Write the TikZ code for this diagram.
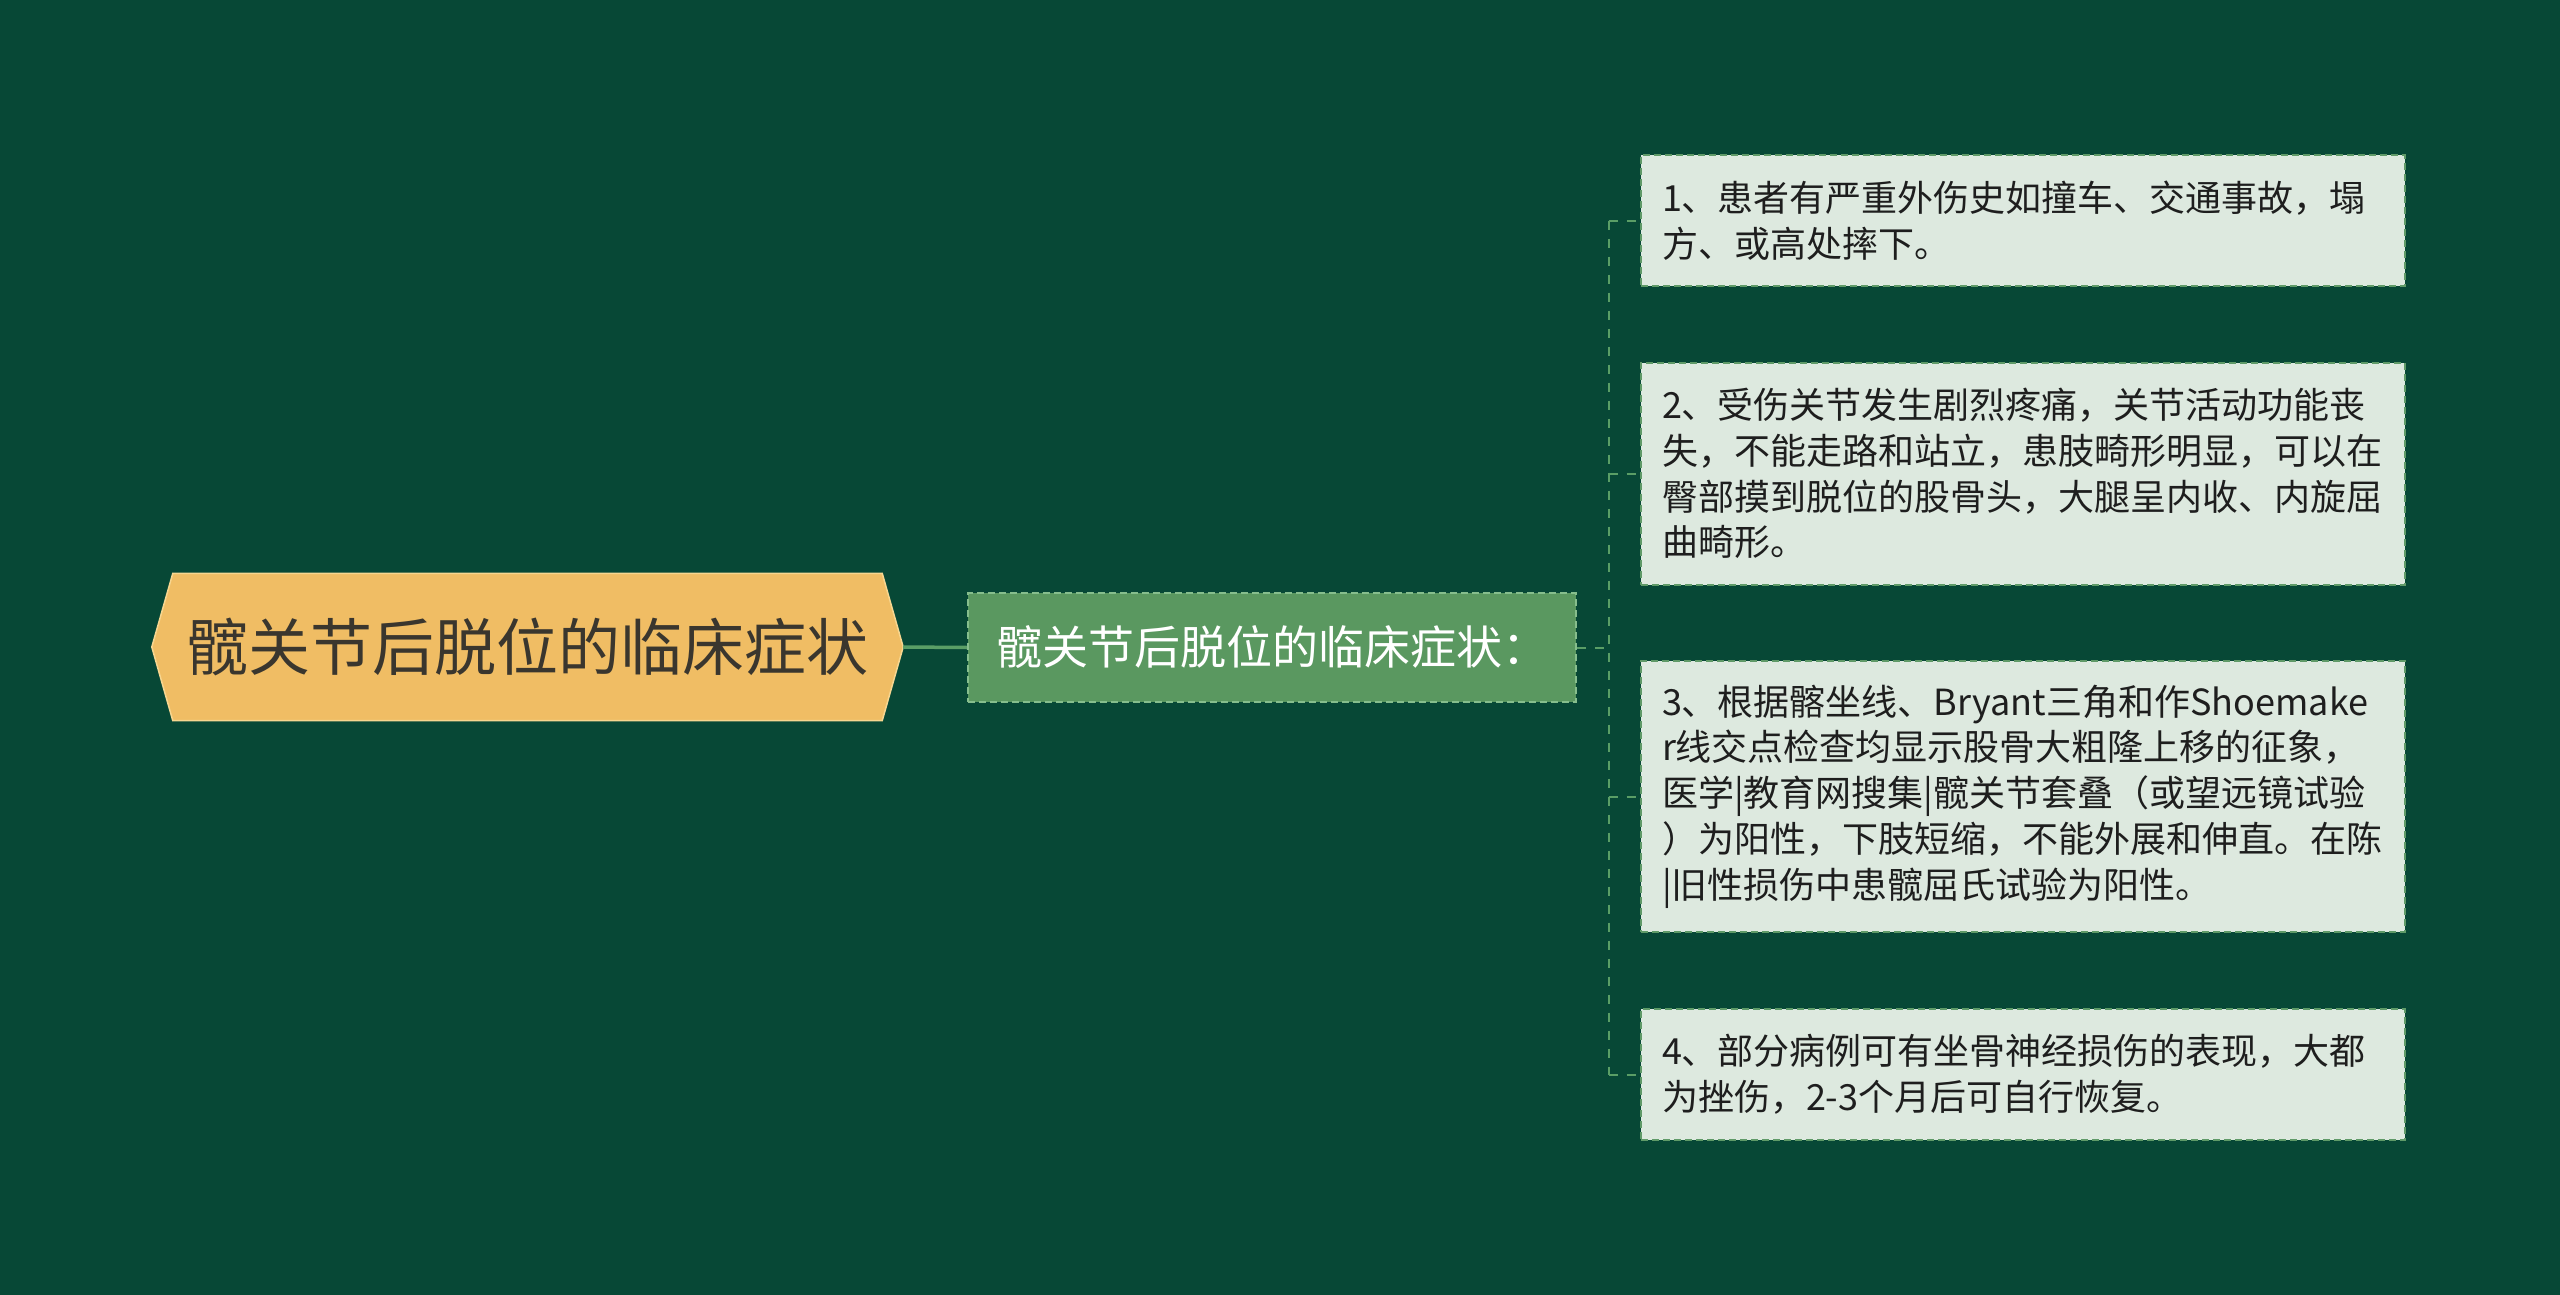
\documentclass[tikz,border=0pt]{standalone}
\usepackage{fontspec}
\setmainfont{Noto Sans CJK SC}
\usetikzlibrary{backgrounds}
\definecolor{bgc}{HTML}{074836}
\definecolor{rootfill}{HTML}{F0BD64}
\definecolor{rootedge}{HTML}{F7D690}
\definecolor{roottext}{HTML}{3A362E}
\definecolor{subfill}{HTML}{5A9860}
\definecolor{subedge}{HTML}{86BE8D}
\definecolor{leaffill}{HTML}{DDE9DF}
\definecolor{leafedge}{HTML}{5F9A68}
\definecolor{leaftext}{HTML}{1E1E1E}
\definecolor{linec}{HTML}{5A9E66}
\tikzset{
  rootbox/.style={minimum width=709pt, minimum height=147pt, inner sep=0pt,
    font=\fontsize{62}{74}\selectfont, text=roottext},
  subbox/.style={minimum width=608pt, minimum height=109pt, inner sep=0pt,
    fill=subfill, draw=subedge, line width=2pt, dash pattern=on 7pt off 4pt,
    font=\fontsize{46}{55}\selectfont, text=white},
  leafbox/.style={minimum width=764pt, inner xsep=21pt, inner ysep=0pt,
    text width=722pt, align=left,
    fill=leaffill, draw=leafedge, line width=2pt, dash pattern=on 7pt off 4pt,
    font=\fontsize{36}{45.7}\selectfont, text=leaftext},
  solidconn/.style={draw=linec, line width=3.5pt},
  dashconn/.style={draw=linec, line width=2pt, dash pattern=on 9pt off 9pt},
}
\begin{document}
\begin{tikzpicture}[x=1pt,y=-1pt]
\useasboundingbox (0,0) rectangle (2560,1295);

\node[rootbox] (root) at (527.5,647) {髋关节后脱位的临床症状};
\coordinate (rootR) at ([xshift=21pt]root.east);
\coordinate (rootL) at ([xshift=-21pt]root.west);

\node[subbox] (sub) at (1272,647.5) {髋关节后脱位的临床症状：};

\node[leafbox, minimum height=131pt] (c1) at (2023,220.5)
  {1、患者有严重外伤史如撞车、交通事故，塌\\方、或高处摔下。};
\node[leafbox, minimum height=222pt] (c2) at (2023,473.5)
  {2、受伤关节发生剧烈疼痛，关节活动功能丧\\失，不能走路和站立，患肢畸形明显，可以在\\臀部摸到脱位的股骨头，大腿呈内收、内旋屈\\曲畸形。};
\node[leafbox, minimum height=271pt] (c3) at (2023,796.5)
  {3、根据髂坐线、Bryant三角和作Shoemake\\r线交点检查均显示股骨大粗隆上移的征象，\\医学|教育网搜集|髋关节套叠（或望远镜试验\\）为阳性，下肢短缩，不能外展和伸直。在陈\\|旧性损伤中患髋屈氏试验为阳性。};
\node[leafbox, minimum height=131pt] (c4) at (2023,1074.5)
  {4、部分病例可有坐骨神经损伤的表现，大都\\为挫伤，2-3个月后可自行恢复。};

\coordinate (trunk) at (1608.5,647.5);

\begin{scope}[on background layer]
  \fill[bgc] (0,0) rectangle (2560,1295);
  \filldraw[fill=rootfill, draw=rootedge, line width=1.5pt]
    (root.north west) -- (root.north east) -- (rootR) -- (root.south east)
    -- (root.south west) -- (rootL) -- cycle;
  \draw[solidconn] (rootR) -- (sub.west);
  \draw[dashconn] (sub.east) -- (trunk);
  \draw[dashconn] (c1.west -| trunk) -- (c4.west -| trunk);
  \draw[dashconn] (c1.west -| trunk) -- (c1.west);
  \draw[dashconn] (c2.west -| trunk) -- (c2.west);
  \draw[dashconn] (c3.west -| trunk) -- (c3.west);
  \draw[dashconn] (c4.west -| trunk) -- (c4.west);
\end{scope}
\end{tikzpicture}
\end{document}
